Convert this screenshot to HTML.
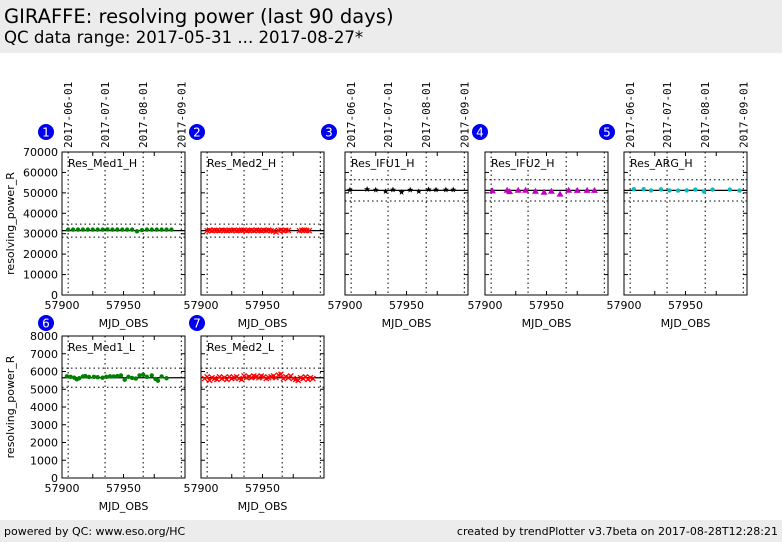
<!DOCTYPE html>
<html><head><meta charset="utf-8">
<style>
body{margin:0;width:782px;height:542px;background:#fff;font-family:"DejaVu Sans","Liberation Sans",sans-serif;overflow:hidden;position:relative}
#hdr{position:absolute;left:0;top:0;width:782px;height:53px;background:#ececec}
#t1{position:absolute;left:4px;top:5px;font-size:19.5px}
#t2{position:absolute;left:4px;top:28px;font-size:16.6px}
#ftr{position:absolute;left:0;top:520px;width:782px;height:22px;background:#ececec;font-size:11px}
</style></head><body>
<div id="hdr">
<div id="t1">GIRAFFE: resolving power (last 90 days)</div>
<div id="t2">QC data range: 2017-05-31 ... 2017-08-27*</div>
</div>
<svg id="chart" width="782" height="542" style="position:absolute;left:0;top:0;font-family:'DejaVu Sans','Liberation Sans',sans-serif"></svg>
<div id="ftr"><span style="position:absolute;left:4px;top:5px">powered by QC: www.eso.org/HC</span><span style="position:absolute;right:4px;top:5px">created by trendPlotter v3.7beta on 2017-08-28T12:28:21</span></div>
<script>
const dateTicks=["2017-06-01","2017-07-01","2017-08-01","2017-09-01"];
const dateMJD=[57905,57935,57966,57997];
const xTicks=[57900,57950];
const yTicksH=[0,10000,20000,30000,40000,50000,60000,70000];
const yTicksL=[0,1000,2000,3000,4000,5000,6000,7000,8000];
const med1hX=[57905,57909,57913,57917,57921,57925,57929,57933,57937,57941,57945,57949,57953,57957,57961,57965,57969,57973,57977,57981,57985,57989];
const med1hY=[32000,32000,32000,32000,32000,32000,32000,32000,32100,32000,32000,32000,32000,32000,31200,31800,32000,32000,32000,32000,32000,32000];
const med2hX=[57905,57907,57909,57911,57913,57915,57917,57919,57921,57923,57925,57927,57929,57931,57933,57935,57937,57939,57941,57943,57945,57947,57949,57951,57953,57955,57957,57959,57961,57963,57965,57967,57969,57971,57980,57982,57984,57986,57988];
const med2hY=[31500,31800,31500,31700,31600,31500,31800,31600,31500,31700,31600,31800,31500,31600,31700,31800,31500,31600,31700,31500,31800,31600,31500,31700,31600,31800,31500,31300,30800,31600,31800,31500,31700,31600,31500,31700,31800,31600,31500];
const ifu1X=[57904,57918,57925,57933,57939,57946,57953,57960,57968,57974,57982,57988];
const ifu1Y=[51500,51800,51500,50800,51600,50400,51500,50800,51700,51600,51600,51600];
const ifu2X=[57906,57918,57920,57927,57933,57941,57948,57954,57961,57968,57975,57983,57989];
const ifu2Y=[51000,51300,50600,51300,51300,50800,50300,50800,49400,51300,51200,51200,51200];
const argX=[57908,57916,57922,57930,57937,57944,57951,57958,57965,57972,57986,57994];
const argY=[51800,51800,51200,51700,51200,51100,51200,51600,50600,51600,51600,51100];
const med1lX=[57904,57907,57910,57912,57914,57917,57919,57922,57926,57929,57933,57936,57939,57942,57945,57948,57951,57954,57957,57960,57963,57966,57969,57973,57976,57978,57981,57985];
const med1lY=[5730,5700,5650,5560,5620,5720,5740,5690,5700,5680,5650,5700,5730,5720,5740,5780,5540,5700,5640,5600,5780,5820,5700,5780,5580,5480,5720,5620];
const med2lX=[57903,57905,57907,57909,57911,57913,57915,57917,57919,57921,57923,57925,57927,57929,57931,57933,57935,57937,57939,57941,57943,57945,57947,57949,57951,57953,57955,57957,57959,57961,57963,57965,57967,57969,57971,57973,57975,57977,57979,57981,57983,57985,57987,57989,57991];
const med2lY=[5600,5700,5500,5650,5600,5550,5700,5600,5650,5550,5700,5600,5650,5700,5600,5550,5750,5650,5700,5650,5750,5700,5650,5750,5700,5600,5650,5700,5750,5650,5800,5850,5600,5700,5650,5750,5600,5550,5500,5650,5600,5700,5550,5650,5600];
const meansH=[31500,31500,51200,51200,51200];
const meansL=[5650,5650];

const svg=document.getElementById('chart');
const NS='http://www.w3.org/2000/svg';
function mk(t,a,p){const e=document.createElementNS(NS,t);for(const k in a)e.setAttribute(k,a[k]);(p||svg).appendChild(e);return e;}
function marker(g,type,cx,cy,col){
  if(type==='dot')return mk('circle',{cx,cy,r:2.2,fill:col},g);
  if(type==='x'){return mk('path',{d:`M${cx-2.5},${cy-2.5}L${cx+2.5},${cy+2.5}M${cx-2.5},${cy+2.5}L${cx+2.5},${cy-2.5}`,stroke:col,'stroke-width':1.3},g);}
  if(type==='tri')return mk('polygon',{points:`${cx},${cy-3.5} ${cx-3.5},${cy+2.5} ${cx+3.5},${cy+2.5}`,fill:col},g);
  if(type==='star')return mk('polygon',{points:`${cx},${cy-3} ${cx+0.9},${cy-0.9} ${cx+3},${cy-0.9} ${cx+1.3},${cy+0.7} ${cx+1.9},${cy+2.8} ${cx},${cy+1.5} ${cx-1.9},${cy+2.8} ${cx-1.3},${cy+0.7} ${cx-3},${cy-0.9} ${cx-0.9},${cy-0.9}`,fill:col},g);
}
function panel(o){
  const {x0,y0,w,h,ymax,yt,xs,ys,mean,band,col,type,name,idx,showY,dates,bx,by}=o;
  const g=mk('g',{});
  
  
  const sx=v=>x0+(v-57900)/100*w, sy=v=>y0+h-(v/ymax)*h;
  dateMJD.forEach((m,i)=>{const X=sx(m);if(X>x0+w+1)return;mk('line',{x1:X,x2:X,y1:y0,y2:y0+h,stroke:'#000','stroke-dasharray':'1.5,3','stroke-width':1},g);
    if(dates){const t=mk('text',{x:0,y:0,transform:`translate(${X+4},148) rotate(-90)`,'font-size':11,'font-family':'"DejaVu Sans Mono","Liberation Mono",monospace'},g);t.textContent=dateTicks[i];}});
  [mean-band,mean+band].forEach(v=>mk('line',{x1:x0,x2:x0+w,y1:sy(v),y2:sy(v),stroke:'#000','stroke-dasharray':'1.5,3'},g));
  mk('line',{x1:x0,x2:x0+w,y1:sy(mean),y2:sy(mean),stroke:'#000','stroke-width':1.2},g);
  xs.forEach((v,i)=>{const m=marker(g,type,sx(v),sy(ys[i]),col);
    
    });
  mk('rect',{x:x0,y:y0,width:w,height:h,fill:'none',stroke:'#000','stroke-width':1},g);
  yt.forEach(v=>{const Y=sy(v);mk('line',{x1:x0,x2:x0+4,y1:Y,y2:Y,stroke:'#000'},g);mk('line',{x1:x0+w-4,x2:x0+w,y1:Y,y2:Y,stroke:'#000'},g);
    if(showY){const t=mk('text',{x:x0-4,y:Y+4,'text-anchor':'end','font-size':11},g);t.textContent=v;}});
  [57900,57925,57950,57975,58000].forEach(v=>{const X=sx(v);mk('line',{x1:X,x2:X,y1:y0+h-4,y2:y0+h,stroke:'#000'},g);mk('line',{x1:X,x2:X,y1:y0,y2:y0+4,stroke:'#000'},g);});
  xTicks.forEach(v=>{const t=mk('text',{x:sx(v),y:y0+h+14,'text-anchor':'middle','font-size':11},g);t.textContent=v;});
  const xl=mk('text',{x:x0+w/2,y:y0+h+32,'text-anchor':'middle','font-size':11},g);xl.textContent='MJD_OBS';
  const nm=mk('text',{x:x0+6,y:y0+15,'font-size':11},g);nm.textContent=name;
  if(showY){const t=mk('text',{x:0,y:0,transform:`translate(14,${y0+h/2}) rotate(-90)`,'text-anchor':'middle','font-size':11},g);t.textContent='resolving_power_R';}
  const b=mk('g',{},g);
  
  
  mk('circle',{cx:bx,cy:by,r:8,fill:'#0000ee'},b);
  const bt=mk('text',{x:bx,y:by+4.5,'text-anchor':'middle','font-size':12,fill:'#fff'},b);bt.textContent=idx;
}
const H={y0:152,h:143,ymax:70000,yt:yTicksH};
const L={y0:336,h:142,ymax:8000,yt:yTicksL};
panel({...H,x0:62,w:123,xs:med1hX,ys:med1hY,mean:meansH[0],band:3200,col:'#008000',type:'dot',name:'Res_Med1_H',idx:1,showY:true,dates:true,bx:46,by:132});
panel({...H,x0:201,w:123,xs:med2hX,ys:med2hY,mean:meansH[1],band:3200,col:'#ff0000',type:'x',name:'Res_Med2_H',idx:2,showY:false,dates:false,bx:197,by:132});
panel({...H,x0:345,w:123,xs:ifu1X,ys:ifu1Y,mean:meansH[2],band:5200,col:'#000',type:'star',name:'Res_IFU1_H',idx:3,showY:false,dates:true,bx:329,by:132});
panel({...H,x0:485,w:123,xs:ifu2X,ys:ifu2Y,mean:meansH[3],band:5200,col:'#c000c0',type:'tri',name:'Res_IFU2_H',idx:4,showY:false,dates:false,bx:480,by:132});
panel({...H,x0:624,w:123,xs:argX,ys:argY,mean:meansH[4],band:5200,col:'#00bfbf',type:'dot',name:'Res_ARG_H',idx:5,showY:false,dates:true,bx:607,by:132});
panel({...L,x0:62,w:123,xs:med1lX,ys:med1lY,mean:meansL[0],band:540,col:'#008000',type:'dot',name:'Res_Med1_L',idx:6,showY:true,dates:false,bx:46,by:323});
panel({...L,x0:201,w:123,xs:med2lX,ys:med2lY,mean:meansL[1],band:540,col:'#ff0000',type:'x',name:'Res_Med2_L',idx:7,showY:false,dates:false,bx:197,by:323});
</script>
</body></html>
